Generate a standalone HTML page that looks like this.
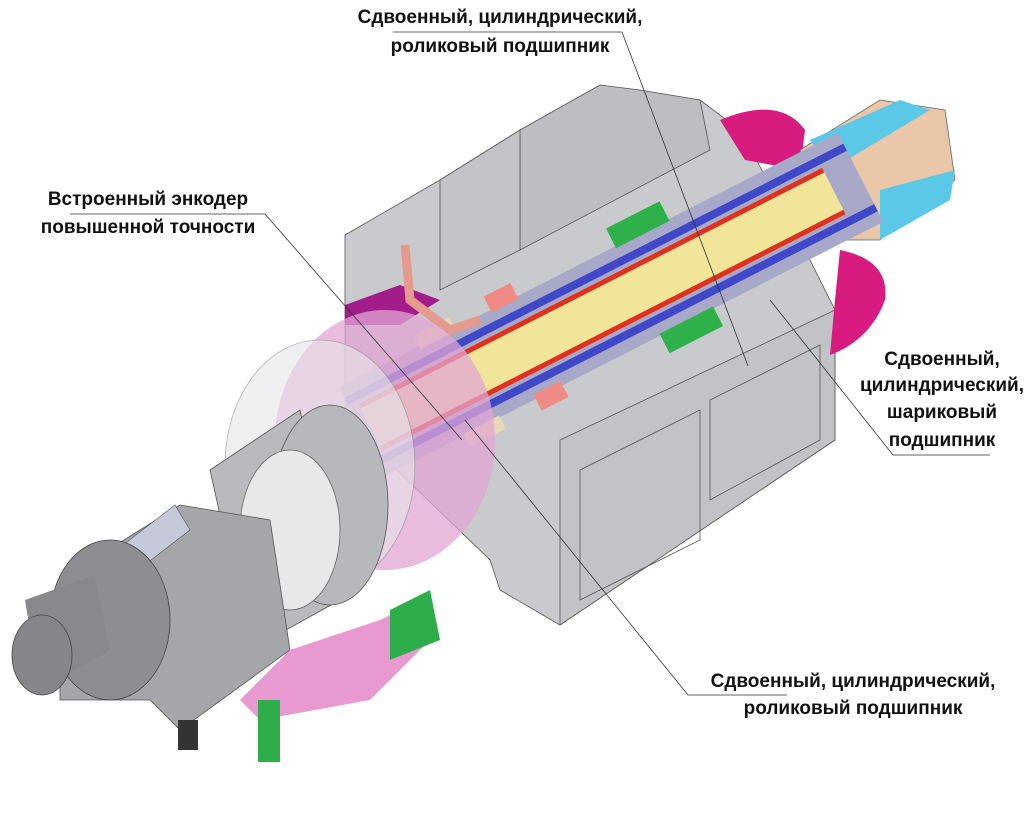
<!DOCTYPE html>
<html><head><meta charset="utf-8"><style>
html,body{margin:0;padding:0;background:#fff;}
svg{display:block}
text{font-family:"Liberation Sans","DejaVu Sans",sans-serif;font-weight:bold;font-size:19px;fill:#111;}
</style></head><body>
<svg width="1024" height="838" viewBox="0 0 1024 838" xmlns="http://www.w3.org/2000/svg">
<g stroke="#555" stroke-width="0.8">
<polygon points="345,235 440,180 520,130 600,85 700,100 740,130 800,240 835,310 835,440 560,625 500,590 490,560 345,420" fill="#c9cacd"/>
<polygon points="520,130 600,85 640,90 700,100 710,150 520,250" fill="#bdbec2"/>
<polygon points="440,180 520,130 520,250 440,290" fill="#c3c4c8"/>
<polygon points="560,440 835,310 835,440 560,625" fill="#c2c3c6"/>
<polygon points="580,470 700,410 700,540 580,600" fill="none"/>
<polygon points="710,400 820,345 820,440 710,500" fill="none"/>
</g>
<path d="M720,120 Q780,95 805,130 L800,170 L745,160 Z" fill="#d81b7e"/>
<path d="M840,250 Q890,260 885,300 Q870,340 830,355 L835,300 Z" fill="#d81b7e"/>
<polygon points="800,150 880,100 945,110 955,180 880,240 830,240" fill="#e9c7a8" stroke="#666" stroke-width="0.8"/>
<polygon points="810,140 900,100 930,110 880,140 830,170" fill="#5cc8e8"/>
<polygon points="880,190 955,170 950,200 880,240" fill="#5cc8e8"/>
<g transform="rotate(-27 620 300)">
<rect x="330" y="250" width="560" height="100" fill="#a8a9c9"/>
<rect x="330" y="262" width="560" height="8" fill="#3f48c8"/>
<rect x="330" y="330" width="560" height="8" fill="#3f48c8"/>
<rect x="340" y="274" width="520" height="52" fill="#f1e59a"/>
<rect x="340" y="274" width="520" height="5" fill="#e0301e"/>
<rect x="340" y="321" width="520" height="5" fill="#e0301e"/>
<rect x="500" y="235" width="30" height="18" fill="#f08a84"/>
<rect x="500" y="345" width="30" height="18" fill="#f08a84"/>
<rect x="640" y="230" width="60" height="22" fill="#2eb04a"/>
<rect x="640" y="348" width="60" height="22" fill="#2eb04a"/>
<rect x="420" y="238" width="40" height="15" fill="#e7d9b8"/>
<rect x="420" y="348" width="40" height="15" fill="#e7d9b8"/>
</g>
<polygon points="345,305 400,285 440,300 400,325 345,325" fill="#a21c8a"/>
<path d="M405,245 L410,300 L450,330 L480,320" stroke="#e59a8e" stroke-width="9" fill="none"/>
<ellipse cx="385" cy="440" rx="110" ry="130" fill="#e2a6d3" opacity="0.75"/>
<ellipse cx="320" cy="465" rx="95" ry="125" fill="#e6e6ea" opacity="0.6" stroke="#888" stroke-width="0.8"/>
<polygon points="210,470 300,410 340,600 250,650" fill="#b9babd" stroke="#555" stroke-width="0.8"/>
<ellipse cx="330" cy="505" rx="58" ry="100" fill="#b7b8bb" stroke="#555" stroke-width="0.8"/>
<ellipse cx="290" cy="530" rx="50" ry="80" fill="#e8e8ea" stroke="#666" stroke-width="0.8"/>
<polygon points="60,580 180,505 270,520 290,650 180,730 150,700 60,700" fill="#a5a6a9" stroke="#555" stroke-width="0.8"/>
<polygon points="110,555 175,505 190,530 125,580" fill="#c6c9da" stroke="#555" stroke-width="0.6"/>
<ellipse cx="110" cy="620" rx="60" ry="80" fill="#8d8e91" stroke="#444" stroke-width="0.8"/>
<polygon points="25,600 95,575 110,650 40,690" fill="#88898c"/>
<ellipse cx="42" cy="655" rx="30" ry="40" fill="#85868a" stroke="#444" stroke-width="0.8"/>
<polygon points="290,650 380,620 420,600 430,640 370,700 260,720 240,700" fill="#e89ad0"/>
<polygon points="390,610 430,590 440,640 390,660" fill="#2eae4a"/>
<rect x="258" y="700" width="22" height="62" fill="#2eae4a"/>
<rect x="178" y="720" width="20" height="30" fill="#333"/>
<g stroke="#333" stroke-width="0.8" fill="none">
<line x1="393" y1="32" x2="622" y2="32"/><line x1="622" y1="32" x2="748" y2="366"/>
<line x1="70" y1="214" x2="265" y2="214"/><line x1="265" y1="214" x2="462" y2="440"/>
<line x1="893" y1="455" x2="990" y2="455"/><line x1="893" y1="455" x2="770" y2="300"/>
<line x1="688" y1="695" x2="787" y2="695"/><line x1="688" y1="695" x2="465" y2="420"/>
</g>
<text x="500" y="23" text-anchor="middle">Сдвоенный, цилиндрический,</text>
<text x="500" y="52" text-anchor="middle">роликовый подшипник</text>
<text x="148" y="205" text-anchor="middle">Встроенный энкодер</text>
<text x="148" y="233" text-anchor="middle">повышенной точности</text>
<text x="942" y="365" text-anchor="middle">Сдвоенный,</text>
<text x="942" y="391" text-anchor="middle">цилиндрический,</text>
<text x="942" y="418" text-anchor="middle">шариковый</text>
<text x="942" y="446" text-anchor="middle">подшипник</text>
<text x="853" y="687" text-anchor="middle">Сдвоенный, цилиндрический,</text>
<text x="853" y="714" text-anchor="middle">роликовый подшипник</text>
</svg>
</body></html>
